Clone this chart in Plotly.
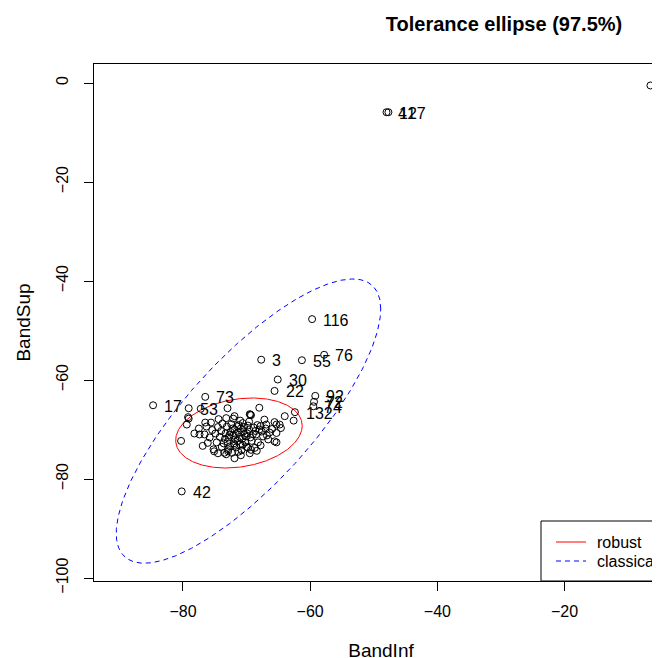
import numpy as np
import plotly.graph_objects as go

# ---- data ----
cluster_inf = [-79.1, -77.2, -79.2, -79.4, -80.3, -76.5, -76.3, -77.4, -76.6, -76.1, -75.2, -75.1,
               -73.0, -73.2, -71.9, -68.0, -69.5, -69.4, -69.3, -67.2, -66.9, -65.6, -65.3, -64.8,
               -64.0, -62.6, -66.6, -65.6, -65.3, -71.9, -73.5, -72.9, -69.8, -69.3, -68.7, -67.4,
               -68.5,
               -74.5, -74.0, -74.2, -73.6, -73.8, -73.1, -73.3, -72.8, -73.0, -72.6, -72.9, -72.4,
               -72.2, -72.5, -72.1, -71.8, -72.0, -71.6, -71.9, -71.5, -71.3, -71.1, -71.4, -71.0,
               -70.8, -70.6, -70.9, -70.5, -70.3, -70.7, -70.2, -70.0, -69.8, -69.6, -69.9, -69.4,
               -69.2, -68.9, -68.6, -68.3, -68.0, -67.8, -71.7, -71.2, -70.4, -72.7, -73.4, -71.9,
               -70.1, -69.0, -70.6, -71.3, -72.3, -74.9, -75.4, -75.8, -74.7, -73.9, -67.6, -67.0,
               -66.4, -66.0, -68.2, -67.8, -69.6, -71.0, -72.1, -74.4, -75.6, -77.5, -78.2, -76.9,
               -74.5, -73.2, -70.9, -69.5, -68.4, -66.8, -65.3, -64.6]
cluster_sup = [-67.8, -65.8, -67.5, -69.0, -72.3, -68.6, -69.4, -71.0, -71.0, -72.7, -74.0, -74.4,
               -65.7, -67.7, -67.3, -65.6, -66.9, -67.0, -67.1, -68.0, -69.0, -68.5, -69.0, -69.0,
               -67.3, -68.2, -72.0, -72.4, -72.6, -75.8, -74.7, -74.4, -73.7, -74.1, -73.7, -71.4,
               -71.0,
               -69.5, -70.3, -71.5, -72.8, -68.8, -69.4, -70.8, -71.6, -72.5, -73.4, -74.0, -68.9,
               -69.8, -70.5, -71.2, -72.0, -72.8, -73.6, -70.0, -69.3, -70.6, -71.5, -72.3, -73.0,
               -74.2, -68.7, -69.8, -70.4, -71.1, -71.9, -72.6, -73.5, -69.2, -70.0, -70.8, -71.6,
               -72.3, -69.6, -70.3, -69.1, -70.0, -69.3, -70.9, -69.1, -69.5, -71.1, -71.9, -73.1,
               -71.4, -70.9, -73.1, -74.5, -74.7, -70.8, -70.1, -71.6, -72.6, -73.5, -70.4, -69.8,
               -70.6, -69.9, -72.6, -73.2, -68.4, -68.2, -67.8, -67.9, -68.6, -69.8, -70.8, -73.3,
               -74.8, -75.0, -75.2, -74.8, -74.3, -71.2, -70.7, -69.7]

labeled_inf = [-59.7, -57.8, -67.7, -61.3, -65.1, -65.6, -59.2, -59.4, -59.5, -62.4, -76.5,
               -84.7, -79.1, -80.2, -6.5, -48.0, -47.7]
labeled_sup = [-47.7, -54.9, -55.9, -56.0, -59.9, -62.2, -63.2, -64.4, -65.3, -66.5, -63.4,
               -65.1, -65.7, -82.5, -0.5, -5.9, -5.9]
labels = ["116", "76", "3", "55", "30", "22", "92", "72", "74", "132", "73",
          "17", "53", "42", "8", "41", "127"]

robust_center = [-71.2, -70.7]
robust_cov = [[13.42, 1.98], [1.98, 6.78]]
classical_center = [-69.7, -68.3]
classical_cov = [[58.6, 63.8], [63.8, 111.7]]
chi2_975_df2 = 7.3778

legend_names = ["robust", "classical"]
legend_colors = ["red", "blue"]
legend_dashes = ["solid", "5px,4px"]

x_ticks = [-80, -60, -40, -20]
y_ticks = [0, -20, -40, -60, -80, -100]


def ellipse(center, cov, q, n=400):
    t = np.linspace(0, 2 * np.pi, n)
    L = np.linalg.cholesky(np.array(cov))
    circ = np.vstack([np.cos(t), np.sin(t)]) * np.sqrt(q)
    pts = L @ circ
    return pts[0] + center[0], pts[1] + center[1]


FONT = "Liberation Sans, Arial, sans-serif"

# plot-area geometry (pixels)
L_M, T_M, W, H = 86, 56, 660, 658
B_M = 85
PW = W - L_M
PH = H - T_M - B_M


def px2paper_x(px):
    return (px - L_M) / PW


def px2paper_y(py):
    return (H - B_M - py) / PH


fig = go.Figure()

rx, ry = ellipse(robust_center, robust_cov, chi2_975_df2)
cx, cy = ellipse(classical_center, classical_cov, chi2_975_df2)

fig.add_trace(go.Scatter(x=rx, y=ry, mode="lines", name=legend_names[0], showlegend=False,
                         line=dict(color=legend_colors[0], width=1, dash=legend_dashes[0])))
fig.add_trace(go.Scatter(x=cx, y=cy, mode="lines", name=legend_names[1], showlegend=False,
                         line=dict(color=legend_colors[1], width=1, dash=legend_dashes[1])))

all_x = cluster_inf + labeled_inf
all_y = cluster_sup + labeled_sup
fig.add_trace(go.Scatter(x=all_x, y=all_y, mode="markers", showlegend=False,
                         marker=dict(symbol="circle-open", size=7, color="black",
                                     line=dict(width=1, color="black"))))

annotations = []
for xv, yv, t in zip(labeled_inf, labeled_sup, labels):
    annotations.append(dict(x=xv, y=yv, xref="x", yref="y", text=t, showarrow=False,
                            xanchor="left", yanchor="middle", xshift=9, yshift=-1,
                            font=dict(family=FONT, size=16, color="black")))

# legend box (R style) drawn in paper coordinates
shapes = [dict(type="rect", xref="paper", yref="paper",
               x0=px2paper_x(533), x1=px2paper_x(700), y0=px2paper_y(573), y1=px2paper_y(513),
               line=dict(color="black", width=1), fillcolor="white", layer="above")]
for i, (nm, col, ds) in enumerate(zip(legend_names, legend_colors, legend_dashes)):
    ypix = 534 + 19 * i
    shapes.append(dict(type="line", xref="paper", yref="paper",
                       x0=px2paper_x(548), x1=px2paper_x(578),
                       y0=px2paper_y(ypix), y1=px2paper_y(ypix),
                       line=dict(color=col, width=1, dash=ds), layer="above"))
    annotations.append(dict(x=px2paper_x(587), y=px2paper_y(ypix), xref="paper", yref="paper",
                            text=nm, showarrow=False, xanchor="left", yanchor="middle",
                            font=dict(family=FONT, size=16, color="black")))

fig.update_layout(
    width=W, height=H,
    margin=dict(l=L_M, r=0, t=T_M, b=B_M, autoexpand=False),
    paper_bgcolor="white", plot_bgcolor="white",
    font=dict(family=FONT, size=16, color="black"),
    showlegend=False,
    title=dict(text="<b>Tolerance ellipse (97.5%)</b>", x=px2paper_x(496), xref="paper",
               xanchor="center", y=1 - 16 / 658, yref="container", yanchor="middle",
               font=dict(family=FONT, size=20, color="black")),
    xaxis=dict(range=[-93.99, -3.74], showgrid=False, zeroline=False,
               showline=True, linecolor="black", linewidth=1, mirror=True,
               ticks="outside", ticklen=9, tickcolor="black", tickwidth=1,
               tickvals=x_ticks, ticklabelstandoff=7,
               title=dict(text="BandInf", standoff=24)),
    yaxis=dict(range=[-100.6, 3.84], showgrid=False, zeroline=False,
               showline=True, linecolor="black", linewidth=1,
               ticks="outside", ticklen=9, tickcolor="black", tickwidth=1,
               tickvals=y_ticks, tickangle=-90, ticklabelstandoff=10,
               title=dict(text="BandSup", standoff=17)),
    shapes=shapes,
    annotations=annotations,
)

fig.write_html("out.html")
